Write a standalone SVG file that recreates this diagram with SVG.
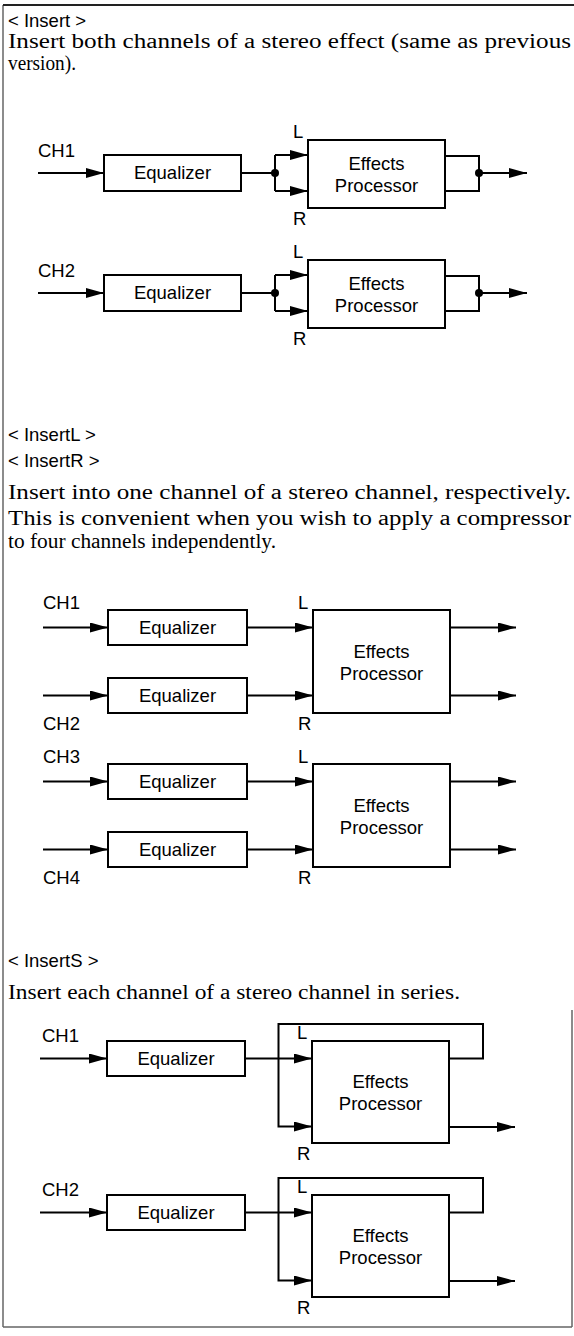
<svg xmlns="http://www.w3.org/2000/svg" width="574" height="1336" viewBox="0 0 574 1336">
<style>
.lbl{font-family:"Liberation Sans",Arial,sans-serif;font-size:18.5px;fill:#000}
.mid{text-anchor:middle}
.hd{font-family:"Liberation Sans",Arial,sans-serif;font-size:18.5px;fill:#000}
.body{font-family:"Liberation Serif","Times New Roman",serif;font-size:20px;fill:#000}
.box{fill:#fff;stroke:#000;stroke-width:2}
.ln{fill:none;stroke:#000;stroke-width:2}
.arr{fill:none;stroke:#000;stroke-width:2;marker-end:url(#ah)}
.dot{fill:#000}
.frame{fill:none;stroke:#666;stroke-width:1.5}
</style>
<defs>
<marker id="ah" markerUnits="userSpaceOnUse" markerWidth="18" markerHeight="10" refX="18" refY="5" orient="auto">
<path d="M0,0 L18,5 L0,10 z" fill="#000"/>
</marker>
</defs>
<rect width="574" height="1336" fill="#fff"/>
<g id="frame">
<path class="frame" d="M3,1327 V5"/>
<path d="M3,5 H574" fill="none" stroke="#222" stroke-width="2"/>
<path class="frame" d="M572,1010 V1327 M3,1327 H572" stroke="#999"/>
</g>
<g id="texts">
<text class="hd" x="8" y="27">&lt; Insert &gt;</text>
<text class="body" x="8" y="48" textLength="563" lengthAdjust="spacingAndGlyphs">Insert both channels of a stereo effect (same as previous</text>
<text class="body" x="8" y="70" textLength="68" lengthAdjust="spacingAndGlyphs">version).</text>
<text class="hd" x="8" y="441">&lt; InsertL &gt;</text>
<text class="hd" x="8" y="467">&lt; InsertR &gt;</text>
<text class="body" x="8" y="499" textLength="563" lengthAdjust="spacingAndGlyphs">Insert into one channel of a stereo channel, respectively.</text>
<text class="body" x="8" y="525" textLength="563" lengthAdjust="spacingAndGlyphs">This is convenient when you wish to apply a compressor</text>
<text class="body" x="8" y="548" textLength="268" lengthAdjust="spacingAndGlyphs">to four channels independently.</text>
<text class="hd" x="8" y="967">&lt; InsertS &gt;</text>
<text class="body" x="8" y="999" textLength="452" lengthAdjust="spacingAndGlyphs">Insert each channel of a stereo channel in series.</text>
</g>

<!-- Section 1 -->
<g id="s1-ch1"><text class="lbl" x="38" y="157">CH1</text></g>
<g id="s1-eq1"><rect class="box" x="104" y="155" width="137" height="36"/><text class="lbl mid" x="172.5" y="179">Equalizer</text></g>
<g id="s1-fx1"><rect class="box" x="308" y="140" width="137" height="68"/><text class="lbl mid" x="376.5" y="170">Effects</text><text class="lbl mid" x="376.5" y="192">Processor</text><text class="lbl" x="293" y="138">L</text><text class="lbl" x="293" y="225">R</text></g>
<g id="s1-ch2"><text class="lbl" x="38" y="277">CH2</text></g>
<g id="s1-eq2"><rect class="box" x="104" y="275" width="137" height="36"/><text class="lbl mid" x="172.5" y="299">Equalizer</text></g>
<g id="s1-fx2"><rect class="box" x="308" y="260" width="137" height="68"/><text class="lbl mid" x="376.5" y="290">Effects</text><text class="lbl mid" x="376.5" y="312">Processor</text><text class="lbl" x="293" y="258">L</text><text class="lbl" x="293" y="345">R</text></g>

<!-- Section 2 -->
<g id="s2-ch1"><text class="lbl" x="43" y="609">CH1</text></g>
<g id="s2-ch2"><text class="lbl" x="43" y="730">CH2</text></g>
<g id="s2-eq1"><rect class="box" x="108" y="610" width="139" height="35"/><text class="lbl mid" x="177.5" y="634">Equalizer</text></g>
<g id="s2-eq2"><rect class="box" x="108" y="678" width="139" height="35"/><text class="lbl mid" x="177.5" y="702">Equalizer</text></g>
<g id="s2-fx1"><rect class="box" x="313" y="610" width="137" height="103"/><text class="lbl mid" x="381.5" y="658">Effects</text><text class="lbl mid" x="381.5" y="680">Processor</text><text class="lbl" x="298" y="609">L</text><text class="lbl" x="298" y="730">R</text></g>
<g id="s2-ch3"><text class="lbl" x="43" y="763">CH3</text></g>
<g id="s2-ch4"><text class="lbl" x="43" y="884">CH4</text></g>
<g id="s2-eq3"><rect class="box" x="108" y="764" width="139" height="35"/><text class="lbl mid" x="177.5" y="788">Equalizer</text></g>
<g id="s2-eq4"><rect class="box" x="108" y="832" width="139" height="35"/><text class="lbl mid" x="177.5" y="856">Equalizer</text></g>
<g id="s2-fx2"><rect class="box" x="313" y="764" width="137" height="103"/><text class="lbl mid" x="381.5" y="812">Effects</text><text class="lbl mid" x="381.5" y="834">Processor</text><text class="lbl" x="298" y="763">L</text><text class="lbl" x="298" y="884">R</text></g>

<!-- Section 3 -->
<g id="s3-ch1"><text class="lbl" x="42" y="1042">CH1</text></g>
<g id="s3-eq1"><rect class="box" x="107" y="1041" width="138" height="35"/><text class="lbl mid" x="176" y="1065">Equalizer</text></g>
<g id="s3-fx1"><rect class="box" x="312" y="1041" width="137" height="102"/><text class="lbl mid" x="380.5" y="1088">Effects</text><text class="lbl mid" x="380.5" y="1110">Processor</text><text class="lbl" x="297" y="1039">L</text><text class="lbl" x="297" y="1160">R</text></g>
<g id="s3-ch2"><text class="lbl" x="42" y="1196">CH2</text></g>
<g id="s3-eq2"><rect class="box" x="107" y="1195" width="138" height="35"/><text class="lbl mid" x="176" y="1219">Equalizer</text></g>
<g id="s3-fx2"><rect class="box" x="312" y="1195" width="137" height="102"/><text class="lbl mid" x="380.5" y="1242">Effects</text><text class="lbl mid" x="380.5" y="1264">Processor</text><text class="lbl" x="297" y="1193">L</text><text class="lbl" x="297" y="1314">R</text></g>

<g id="connectors">
<!-- section 1 row 1 -->
<path class="arr" d="M38,173 H104"/>
<path class="ln" d="M241,173 H275 M275,155 V191"/>
<path class="arr" d="M275,155 H308"/>
<path class="arr" d="M275,191 H308"/>
<path class="ln" d="M445,156 H479 V191 H445"/>
<path class="arr" d="M479,173 H527"/>
<circle class="dot" cx="275" cy="173" r="4"/>
<circle class="dot" cx="479" cy="173" r="4"/>
<!-- section 1 row 2 -->
<path class="arr" d="M38,293 H104"/>
<path class="ln" d="M241,293 H275 M275,275 V311"/>
<path class="arr" d="M275,275 H308"/>
<path class="arr" d="M275,311 H308"/>
<path class="ln" d="M445,276 H479 V311 H445"/>
<path class="arr" d="M479,293 H527"/>
<circle class="dot" cx="275" cy="293" r="4"/>
<circle class="dot" cx="479" cy="293" r="4"/>
<!-- section 2 -->
<path class="arr" d="M43,627.5 H108"/>
<path class="arr" d="M247,627.5 H313"/>
<path class="arr" d="M450,627.5 H516"/>
<path class="arr" d="M43,695.5 H108"/>
<path class="arr" d="M247,695.5 H313"/>
<path class="arr" d="M450,695.5 H516"/>
<path class="arr" d="M43,781.5 H108"/>
<path class="arr" d="M247,781.5 H313"/>
<path class="arr" d="M450,781.5 H516"/>
<path class="arr" d="M43,849.5 H108"/>
<path class="arr" d="M247,849.5 H313"/>
<path class="arr" d="M450,849.5 H516"/>
<!-- section 3 row 1 -->
<path class="arr" d="M40,1058.5 H107"/>
<path class="arr" d="M245,1058.5 H312"/>
<path class="arr" d="M449,1058.5 H483 V1024 H278.5 V1126.5 H312"/>
<path class="arr" d="M449,1127 H515"/>
<!-- section 3 row 2 -->
<path class="arr" d="M40,1212.5 H107"/>
<path class="arr" d="M245,1212.5 H312"/>
<path class="arr" d="M449,1212.5 H483 V1178 H278.5 V1280.5 H312"/>
<path class="arr" d="M449,1281 H515"/>
</g>
</svg>
